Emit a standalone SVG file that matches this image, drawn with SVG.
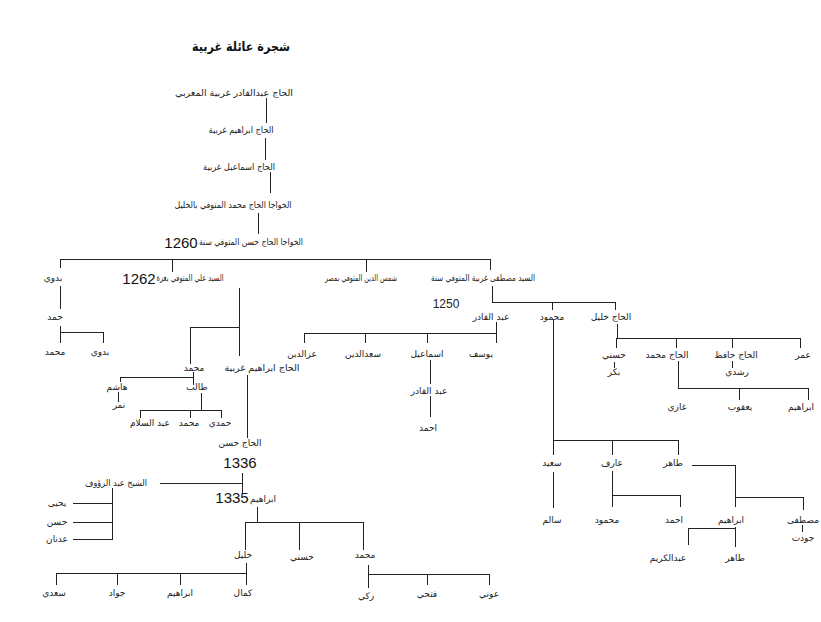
<svg xmlns="http://www.w3.org/2000/svg" width="821" height="622" viewBox="0 0 821 622">
<style>
text{font-family:"DejaVu Sans",sans-serif;font-size:9px;fill:#222;text-anchor:middle}
.t{font-size:13px;font-weight:bold;fill:#111}
.n{font-family:"Liberation Sans",Arial,sans-serif;font-size:15px;fill:#111}
.ns{font-family:"Liberation Sans",Arial,sans-serif;font-size:12px;fill:#222}
#connectors path{stroke:#222;stroke-width:1;fill:none}
</style>
<rect width="821" height="622" fill="#fff"/>
<text class="t" x="241" y="51" textLength="98" lengthAdjust="spacingAndGlyphs">شجرة عائلة غربية</text>
<g id="connectors">
<path d="M266.5 98V123M265.5 138V160M270.5 172V193M258.5 213V234"/>
<path d="M60 259.5H490M60.5 259V268M172.5 259V272M366.5 259V272M490.5 259V270"/>
<path d="M60.5 286V309M60.5 326V343M60 332.5H103M103.5 332V343"/>
<path d="M239.5 288V356M191 327.5H239M190.5 327V364"/>
<path d="M120 377.5H193M193.5 372V385M120.5 377V382M118.5 392V402"/>
<path d="M201.5 393V410M140 410.5H221M140.5 410V418M190.5 410V418M221.5 410V418"/>
<path d="M247.5 375V438M242.5 473V493M160 483.5H242"/>
<path d="M112.5 488V540M73 503.5H112M73 522.5H112M73 539.5H112"/>
<path d="M257.5 507V522M245 522.5H363M245.5 522V550M299.5 522V550M363.5 522V550"/>
<path d="M246.5 563V585M56 573.5H246M56.5 573V585M117.5 573V585M180.5 573V585"/>
<path d="M368.5 565V588M368 574.5H489M427.5 574V585M489.5 574V585"/>
<path d="M492.5 286V302M492 302.5H615M552.5 302V310M615.5 302V310"/>
<path d="M496.5 322V343M304 333.5H496M304.5 333V343M365.5 333V343M427.5 333V343"/>
<path d="M430.5 360V384M430.5 396V417"/>
<path d="M617.5 324V338M616 338.5H800M616.5 338V348M676.5 338V348M732.5 338V348M800.5 338V348"/>
<path d="M614.5 362V368M732.5 361V368"/>
<path d="M678.5 361V388M678 388.5H808M739.5 388V400M808.5 388V400"/>
<path d="M553.5 320V455M553 440.5H678M612.5 440V455M678.5 440V455"/>
<path d="M553.5 472V508M612.5 471V507M612 495.5H680M680.5 495V507"/>
<path d="M692 465.5H735M735.5 465V507M735 497.5H803M803.5 497V510M802.5 525V532"/>
<path d="M735.5 527V547M688 528.5H735M688.5 528V545"/>
</g>
<g id="n-root"><text x="234" y="96" textLength="118" lengthAdjust="spacingAndGlyphs">الحاج عبدالقادر غربية المغربي</text></g>
<g id="n-ibrahim1"><text x="241" y="133" textLength="65" lengthAdjust="spacingAndGlyphs">الحاج ابراهيم غربية</text></g>
<g id="n-ismail1"><text x="239" y="170" textLength="72" lengthAdjust="spacingAndGlyphs">الحاج اسماعيل غربية</text></g>
<g id="n-muhammad1"><text x="233" y="208" textLength="117" lengthAdjust="spacingAndGlyphs">الخواجا الحاج محمد المتوفي بالخليل</text></g>
<g id="n-hasan1"><text x="251" y="245" textLength="104" lengthAdjust="spacingAndGlyphs">الخواجا الحاج حسن المتوفي سنة</text><text class="n" x="181" y="248">1260</text></g>
<g id="n-badawi"><text x="53" y="281">بدوي</text></g>
<g id="n-ali"><text x="190" y="281" textLength="67" lengthAdjust="spacingAndGlyphs">السيد علي المتوفي بغزة</text><text class="n" x="139" y="284">1262</text></g>
<g id="n-shams"><text x="361" y="281" textLength="72" lengthAdjust="spacingAndGlyphs">شمس الدين المتوفي بمصر</text></g>
<g id="n-mustafa"><text x="483" y="281" textLength="104" lengthAdjust="spacingAndGlyphs">السيد مصطفى غربية المتوفي سنة</text><text class="ns" x="446" y="308">1250</text></g>
<g id="n-hamad"><text x="55" y="320">حمد</text></g>
<g id="n-muhammad2"><text x="55" y="355">محمد</text></g>
<g id="n-badawi2"><text x="100" y="355">بدوي</text></g>
<g id="n-muhammad3"><text x="194" y="371">محمد</text></g>
<g id="n-ibrahim2"><text x="262" y="371" textLength="75" lengthAdjust="spacingAndGlyphs">الحاج ابراهيم غربية</text></g>
<g id="n-hashem"><text x="117" y="390">هاشم</text></g>
<g id="n-nimr"><text x="119" y="408">نمر</text></g>
<g id="n-talib"><text x="197" y="390">طالب</text></g>
<g id="n-abdsalam"><text x="150" y="426">عبد السلام</text></g>
<g id="n-muhammad4"><text x="189" y="426">محمد</text></g>
<g id="n-hamdi"><text x="220" y="426">حمدي</text></g>
<g id="n-hasan2"><text x="240" y="446">الحاج حسن</text><text class="n" x="240" y="468">1336</text></g>
<g id="n-abdraouf"><text x="116" y="486" textLength="62" lengthAdjust="spacingAndGlyphs">الشيخ عبد الرؤوف</text></g>
<g id="n-yahya"><text x="57" y="506">يحيى</text></g>
<g id="n-hasan3"><text x="57" y="525">حسن</text></g>
<g id="n-adnan"><text x="57" y="542">عدنان</text></g>
<g id="n-ibrahim3"><text x="263" y="502">ابراهيم</text><text class="n" x="232" y="503">1335</text></g>
<g id="n-khalil"><text x="243" y="558">خليل</text></g>
<g id="n-husni"><text x="302" y="560">حسني</text></g>
<g id="n-muhammad5"><text x="365" y="558">محمد</text></g>
<g id="n-saadi"><text x="54" y="596">سعدي</text></g>
<g id="n-jawad"><text x="117" y="596">جواد</text></g>
<g id="n-ibrahim4"><text x="180" y="596">ابراهيم</text></g>
<g id="n-kamal"><text x="243" y="596">كمال</text></g>
<g id="n-zaki"><text x="366" y="599">زكي</text></g>
<g id="n-fathi"><text x="427" y="597">فتحي</text></g>
<g id="n-awni"><text x="489" y="597">عوني</text></g>
<g id="n-abdqader"><text x="491" y="320">عبد القادر</text></g>
<g id="n-mahmoud"><text x="552" y="320">محمود</text></g>
<g id="n-hajkhalil"><text x="611" y="320">الحاج خليل</text></g>
<g id="n-izz"><text x="302" y="357">عزالدين</text></g>
<g id="n-saad"><text x="363" y="357">سعدالدين</text></g>
<g id="n-ismail2"><text x="427" y="357">اسماعيل</text></g>
<g id="n-yusuf"><text x="481" y="357">يوسف</text></g>
<g id="n-abdqader2"><text x="429" y="394">عبد القادر</text></g>
<g id="n-ahmad1"><text x="428" y="431">احمد</text></g>
<g id="n-husni2"><text x="614" y="358">حسني</text></g>
<g id="n-hajmuhammad"><text x="667" y="358">الحاج محمد</text></g>
<g id="n-hafez"><text x="736" y="358">الحاج حافظ</text></g>
<g id="n-omar"><text x="803" y="358">عمر</text></g>
<g id="n-bakr"><text x="614" y="375">بكر</text></g>
<g id="n-rushdi"><text x="737" y="375">رشدي</text></g>
<g id="n-ghazi"><text x="677" y="410">غازي</text></g>
<g id="n-yaqub"><text x="740" y="410">يعقوب</text></g>
<g id="n-ibrahim5"><text x="801" y="410">ابراهيم</text></g>
<g id="n-said"><text x="552" y="466">سعيد</text></g>
<g id="n-aref"><text x="612" y="466">عارف</text></g>
<g id="n-taher"><text x="673" y="466">طاهر</text></g>
<g id="n-salem"><text x="552" y="523">سالم</text></g>
<g id="n-mahmoud2"><text x="607" y="523">محمود</text></g>
<g id="n-ahmad2"><text x="674" y="523">احمد</text></g>
<g id="n-ibrahim6"><text x="731" y="523">ابراهيم</text></g>
<g id="n-mustafa2"><text x="803" y="523">مصطفى</text><text x="803" y="541">جودت</text></g>
<g id="n-abdkarim"><text x="668" y="561">عبدالكريم</text></g>
<g id="n-taher2"><text x="735" y="561">طاهر</text></g>
</svg>
